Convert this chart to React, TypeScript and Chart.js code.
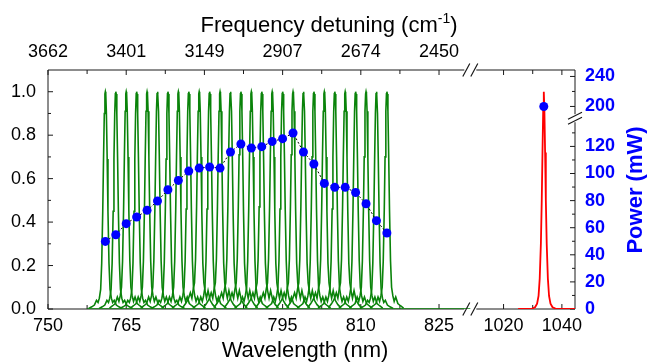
import React, { useEffect, useRef } from 'react';
import { Chart, registerables } from 'chart.js';

Chart.register(...registerables);

const FONT = "'Liberation Sans', Arial, Helvetica, sans-serif";

// ---------------- data ----------------
const stokesPeakNm = [761, 763, 765, 767, 769, 771, 773, 775, 777, 779, 781, 783, 785, 787, 789, 791, 793, 795, 797, 799, 801, 803, 805, 807, 809, 811, 813, 815];
const stokesPowerMw = [49.9, 54.8, 63.0, 67.9, 72.8, 79.7, 88.0, 94.9, 101.8, 104.0, 104.8, 104.0, 115.9, 121.8, 118.8, 119.8, 123.7, 125.7, 129.9, 115.9, 107.0, 92.7, 89.8, 89.8, 86.0, 77.7, 65.2, 56.1];
const pumpPeakNm = 1033.8;
const pumpPowerMw = 200;

// normalized line shapes (offset from the peak in nm)
const stokesOffsetNm = [-3.2, -2.6, -2.1, -1.7, -1.4, -1.15, -0.9, -0.7, -0.5, -0.35, -0.2, -0.08, 0, 0.08, 0.2, 0.35, 0.5, 0.7, 0.9, 1.15, 1.4, 1.7, 2.1, 2.6, 3.2];
const stokesShapeA = [0.004, 0.015, 0.025, 0.055, 0.035, 0.06, 0.1, 0.22, 0.46, 0.7, 0.91, 0.99, 1, 0.99, 0.91, 0.7, 0.46, 0.22, 0.1, 0.06, 0.035, 0.055, 0.025, 0.015, 0.004];
const stokesShapeB = [0.006, 0.025, 0.045, 0.075, 0.05, 0.09, 0.12, 0.23, 0.47, 0.71, 0.91, 0.99, 1, 0.99, 0.91, 0.7, 0.45, 0.21, 0.12, 0.08, 0.05, 0.085, 0.04, 0.02, 0.005];
const stokesShapeC = [0.003, 0.01, 0.018, 0.04, 0.03, 0.05, 0.09, 0.21, 0.45, 0.69, 0.9, 0.99, 1, 0.99, 0.9, 0.69, 0.45, 0.21, 0.09, 0.05, 0.03, 0.04, 0.018, 0.01, 0.003];
const stokesShapeOfPeak = [2, 2, 0, 2, 0, 0, 2, 0, 0, 1, 0, 1, 1, 1, 0, 1, 1, 0, 1, 1, 0, 1, 0, 1, 0, 0, 2, 0];
const stokesBaselineNm = [757.5, 831];

const pumpOffsetNm = [-8.8, -4, -3, -2.3, -1.8, -1.4, -1.0, -0.7, -0.45, -0.2, 0, 0.2, 0.45, 0.7, 1.0, 1.4, 1.8, 2.3, 3, 4, 10.7];
const pumpShape = [0, 0.002, 0.008, 0.025, 0.06, 0.14, 0.3, 0.5, 0.72, 0.92, 1.0, 0.92, 0.72, 0.5, 0.3, 0.14, 0.06, 0.025, 0.008, 0.002, 0];

// axes
const wavelengthTickNm = [750, 765, 780, 795, 810, 825, 1020, 1040];
const wavelengthMinorNm = [757.5, 772.5, 787.5, 802.5, 817.5, 1030];
const detuningTickNm = [750, 765, 780, 795, 810, 825];
const detuningLabels = ['3662', '3401', '3149', '2907', '2674', '2450'];
const intensityTicks = [0, 0.2, 0.4, 0.6, 0.8, 1.0];
const intensityMinor = [0.1, 0.3, 0.5, 0.7, 0.9];
const powerTicksMw = [0, 20, 40, 60, 80, 100, 120, 200, 240];
const powerMinorMw = [10, 30, 50, 70, 90, 110, 130, 220];

// ---------------- broken-axis mappings ----------------
const NM_LEFT_END = 831;
const NM_RIGHT_START = 1008.6;
const NM_RIGHT_END = 1044.5;
const RIGHT_COMPRESS = 2.92 / 5.22;
const toU = (nm: number) => (nm < 920 ? nm - 750 : NM_LEFT_END - 750 + (nm - NM_RIGHT_START) * RIGHT_COMPRESS);
const U_MAX = toU(NM_RIGHT_END);
const U_BREAK = toU(NM_LEFT_END);

const toEq = (p: number) => (p <= 160 ? p : 149.5 + (p - 200) * 0.5535);
const EQ_MAX = 176.4;
const EQ_BREAK = 140.8;

const GREEN = '#0a830a';
const RED = '#ff0000';
const BLUE = '#0000ff';
const AXIS = '#1a1a1a';

const shapes = [stokesShapeA, stokesShapeB, stokesShapeC];

const brokenAxes = {
  id: 'brokenAxes',
  beforeDatasetsDraw(chart: any) {
    const { ctx, chartArea: a, scales } = chart;
    const sx = scales.x, sy = scales.y, sy2 = scales.y2;
    const bx = sx.getPixelForValue(U_BREAK);
    const by = sy2.getPixelForValue(EQ_BREAK);
    ctx.save();
    ctx.strokeStyle = AXIS;
    ctx.lineWidth = 1;
    ctx.beginPath();
    ctx.moveTo(a.left, a.top); ctx.lineTo(a.left, a.bottom);
    ctx.moveTo(a.left, a.bottom); ctx.lineTo(bx - 6, a.bottom);
    ctx.moveTo(bx + 6, a.bottom); ctx.lineTo(a.right, a.bottom);
    ctx.moveTo(a.left, a.top); ctx.lineTo(bx - 6, a.top);
    ctx.moveTo(bx + 6, a.top); ctx.lineTo(a.right, a.top);
    ctx.moveTo(a.right, a.top); ctx.lineTo(a.right, by - 4);
    ctx.moveTo(a.right, by + 4); ctx.lineTo(a.right, a.bottom);
    const xt = (nm: number, len: number) => {
      const px = sx.getPixelForValue(toU(nm));
      ctx.moveTo(px, a.bottom); ctx.lineTo(px, a.bottom - len);
      ctx.moveTo(px, a.top); ctx.lineTo(px, a.top + len);
    };
    wavelengthTickNm.forEach((nm) => xt(nm, 5));
    wavelengthMinorNm.forEach((nm) => xt(nm, 4));
    intensityTicks.forEach((v) => { const py = sy.getPixelForValue(v); ctx.moveTo(a.left, py); ctx.lineTo(a.left + 5, py); });
    intensityMinor.forEach((v) => { const py = sy.getPixelForValue(v); ctx.moveTo(a.left, py); ctx.lineTo(a.left + 3, py); });
    powerTicksMw.forEach((v) => { const py = sy2.getPixelForValue(toEq(v)); ctx.moveTo(a.right, py); ctx.lineTo(a.right - 5, py); });
    powerMinorMw.forEach((v) => { const py = sy2.getPixelForValue(toEq(v)); ctx.moveTo(a.right, py); ctx.lineTo(a.right - 3, py); });
    ctx.stroke();
    ctx.restore();
  },
  afterDraw(chart: any) {
    const { ctx, chartArea: a, scales } = chart;
    const bx = scales.x.getPixelForValue(U_BREAK);
    const by = scales.y2.getPixelForValue(EQ_BREAK);
    ctx.save();
    ctx.strokeStyle = AXIS;
    ctx.lineWidth = 1.2;
    ctx.beginPath();
    [a.top, a.bottom].forEach((yy: number) => {
      [-4, 4].forEach((d) => {
        ctx.moveTo(bx + d - 3.5, yy + 6.5);
        ctx.lineTo(bx + d + 3.5, yy - 6.5);
      });
    });
    [-2.5, 2.5].forEach((d) => {
      ctx.moveTo(a.right - 7, by + d + 3.5);
      ctx.lineTo(a.right + 7, by + d - 3.5);
    });
    ctx.stroke();

    // top title with superscript
    ctx.fillStyle = '#000';
    ctx.textBaseline = 'alphabetic';
    ctx.textAlign = 'left';
    const main = 'Frequency detuning (cm';
    const sup = '-1';
    const close = ')';
    ctx.font = `22px ${FONT}`;
    const wMain = ctx.measureText(main).width;
    const wClose = ctx.measureText(close).width;
    ctx.font = `14px ${FONT}`;
    const wSup = ctx.measureText(sup).width;
    const total = wMain + wSup + wClose;
    let tx = 329 - total / 2;
    const ty = 32;
    ctx.font = `22px ${FONT}`;
    ctx.fillText(main, tx, ty);
    tx += wMain;
    ctx.font = `14px ${FONT}`;
    ctx.fillText(sup, tx, ty - 9);
    tx += wSup;
    ctx.font = `22px ${FONT}`;
    ctx.fillText(close, tx, ty);

    // bottom title
    ctx.textAlign = 'center';
    ctx.fillText('Wavelength (nm)', 305, 357);

    // right title, rotated
    ctx.save();
    ctx.translate(636, 190);
    ctx.rotate(-Math.PI / 2);
    ctx.font = `bold 22px ${FONT}`;
    ctx.fillStyle = BLUE;
    ctx.textAlign = 'center';
    ctx.textBaseline = 'middle';
    ctx.fillText('Power (mW)', 0, 0);
    ctx.restore();
    ctx.restore();
  },
};

export default function App() {
  const ref = useRef<HTMLCanvasElement | null>(null);
  useEffect(() => {
    document.body.style.margin = '0';
    const canvas = ref.current;
    if (!canvas) return;

    const powerData = stokesPeakNm.map((nm, i) => ({ x: toU(nm), y: toEq(stokesPowerMw[i]) }));
    const pumpDot = [{ x: toU(pumpPeakNm), y: toEq(pumpPowerMw) }];
    const pumpLine = pumpOffsetNm.map((o, k) => ({ x: toU(pumpPeakNm + o), y: pumpShape[k] }));
    const stokesSets = stokesPeakNm.map((c, i) => {
      const sh = shapes[stokesShapeOfPeak[i]];
      return {
        type: 'line',
        data: stokesOffsetNm.map((o, k) => ({ x: toU(c + o), y: sh[k] })),
        borderColor: GREEN,
        borderWidth: 1.6,
        pointRadius: 0,
        tension: 0,
        xAxisID: 'x',
        yAxisID: 'y',
      };
    });

    const chart = new Chart(canvas, {
      type: 'line',
      data: {
        datasets: [
          {
            data: powerData,
            borderColor: '#000',
            borderWidth: 1,
            borderDash: [2, 2],
            pointRadius: 4.5,
            pointBackgroundColor: BLUE,
            pointBorderColor: BLUE,
            pointBorderWidth: 0,
            tension: 0,
            xAxisID: 'x',
            yAxisID: 'y2',
          },
          {
            data: pumpDot,
            showLine: false,
            pointRadius: 4.5,
            pointBackgroundColor: BLUE,
            pointBorderColor: BLUE,
            pointBorderWidth: 0,
            xAxisID: 'x',
            yAxisID: 'y2',
          },
          {
            data: pumpLine,
            borderColor: RED,
            borderWidth: 1.8,
            pointRadius: 0,
            tension: 0,
            xAxisID: 'x',
            yAxisID: 'y',
          },
          ...stokesSets,
          {
            data: stokesBaselineNm.map((nm) => ({ x: toU(nm), y: 0 })),
            borderColor: GREEN,
            borderWidth: 1.4,
            pointRadius: 0,
            xAxisID: 'x',
            yAxisID: 'y',
          },
        ] as any,
      },
      options: {
        responsive: false,
        animation: false,
        devicePixelRatio: 1,
        layout: { padding: 0 },
        plugins: { legend: { display: false }, tooltip: { enabled: false } },
        scales: {
          x: {
            type: 'linear',
            position: 'bottom',
            min: 0,
            max: U_MAX,
            grid: { display: false, drawTicks: false },
            border: { display: false },
            afterBuildTicks: (s: any) => { s.ticks = wavelengthTickNm.map((nm) => ({ value: toU(nm) })); },
            afterFit: (s: any) => { s.height = 55; },
            ticks: {
              autoSkip: false,
              maxRotation: 0,
              padding: 6,
              color: '#000',
              font: { family: FONT, size: 18 },
              callback: (_v: any, i: number) => String(wavelengthTickNm[i]),
            },
          },
          xTop: {
            type: 'linear',
            position: 'top',
            min: 0,
            max: U_MAX,
            grid: { display: false, drawTicks: false },
            border: { display: false },
            afterBuildTicks: (s: any) => { s.ticks = detuningTickNm.map((nm) => ({ value: toU(nm) })); },
            afterFit: (s: any) => { s.height = 70; },
            ticks: {
              autoSkip: false,
              maxRotation: 0,
              padding: 7,
              color: '#000',
              font: { family: FONT, size: 18 },
              callback: (_v: any, i: number) => detuningLabels[i],
            },
          },
          y: {
            type: 'linear',
            position: 'left',
            min: 0,
            max: 1.1,
            grid: { display: false, drawTicks: false },
            border: { display: false },
            afterBuildTicks: (s: any) => { s.ticks = intensityTicks.map((v) => ({ value: v })); },
            afterFit: (s: any) => { s.width = 48; },
            ticks: {
              autoSkip: false,
              padding: 12,
              color: '#000',
              font: { family: FONT, size: 18 },
              callback: (v: any) => Number(v).toFixed(1),
            },
          },
          y2: {
            type: 'linear',
            position: 'right',
            min: 0,
            max: EQ_MAX,
            grid: { display: false, drawTicks: false },
            border: { display: false },
            afterBuildTicks: (s: any) => { s.ticks = powerTicksMw.map((v) => ({ value: toEq(v) })); },
            afterFit: (s: any) => { s.width = 74; },
            ticks: {
              autoSkip: false,
              padding: 10,
              color: BLUE,
              font: { family: FONT, size: 18, weight: 'bold' },
              callback: (_v: any, i: number) => String(powerTicksMw[i]),
            },
          },
        },
      } as any,
      plugins: [brokenAxes],
    });
    return () => chart.destroy();
  }, []);

  return (
    <div style={{ width: 649, height: 364 }}>
      <canvas ref={ref} width={649} height={364} style={{ display: 'block' }} />
    </div>
  );
}
